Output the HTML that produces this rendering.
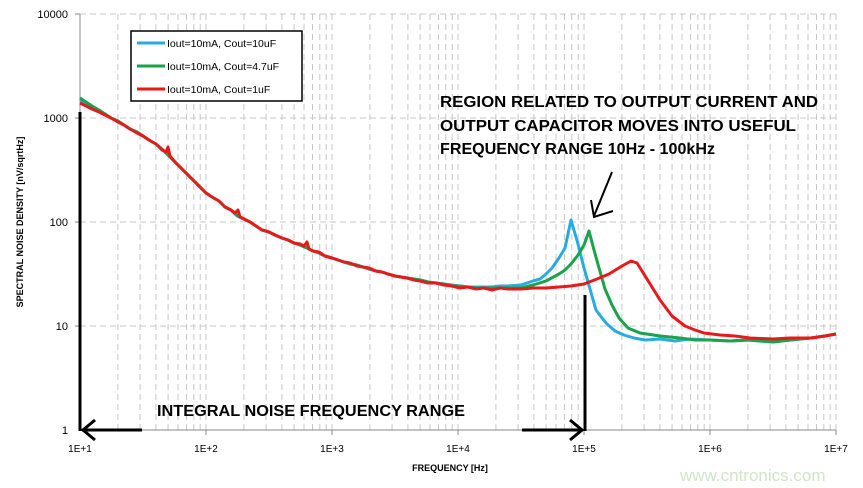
<!DOCTYPE html>
<html><head><meta charset="utf-8"><style>
body{margin:0;background:#fff}
svg{display:block;font-family:"Liberation Sans",sans-serif}
</style></head><body>
<svg width="863" height="488" viewBox="0 0 863 488">
<rect width="863" height="488" fill="#fff"/>
<defs>
<g id="dec">
<line x1="37.9" y1="14" x2="37.9" y2="430"/><line x1="60.1" y1="14" x2="60.1" y2="430"/><line x1="75.9" y1="14" x2="75.9" y2="430"/><line x1="88.1" y1="14" x2="88.1" y2="430"/><line x1="98" y1="14" x2="98" y2="430"/><line x1="106.5" y1="14" x2="106.5" y2="430"/><line x1="113.8" y1="14" x2="113.8" y2="430"/><line x1="120.2" y1="14" x2="120.2" y2="430"/><line x1="126" y1="14" x2="126" y2="430"/>
</g>
</defs>
<g stroke="#c8c8c8" stroke-width="1" stroke-dasharray="6,4" fill="none">
<use href="#dec" x="80"/><use href="#dec" x="206"/><use href="#dec" x="332"/><use href="#dec" x="458"/><use href="#dec" x="584"/><use href="#dec" x="710"/>
<line x1="80" y1="14" x2="836" y2="14"/><line x1="80" y1="118" x2="836" y2="118"/><line x1="80" y1="222" x2="836" y2="222"/><line x1="80" y1="326" x2="836" y2="326"/>
</g>
<line x1="80" y1="430" x2="836" y2="430" stroke="#888"/>
<line x1="80" y1="14" x2="80" y2="430" stroke="#888"/>
<g stroke="#888">
<line x1="206" y1="430" x2="206" y2="435"/><line x1="332" y1="430" x2="332" y2="435"/><line x1="458" y1="430" x2="458" y2="435"/><line x1="584" y1="430" x2="584" y2="435"/><line x1="710" y1="430" x2="710" y2="435"/><line x1="836" y1="430" x2="836" y2="435"/>
<line x1="75" y1="14" x2="80" y2="14"/><line x1="75" y1="118" x2="80" y2="118"/><line x1="75" y1="222" x2="80" y2="222"/><line x1="75" y1="326" x2="80" y2="326"/>
</g>
<g font-size="11" fill="#000" text-anchor="end">
<text x="68" y="18">10000</text><text x="68" y="122">1000</text><text x="68" y="226">100</text><text x="68" y="330">10</text><text x="68" y="434">1</text>
</g>
<g font-size="10" fill="#000" text-anchor="middle">
<text x="80" y="452">1E+1</text><text x="206" y="452">1E+2</text><text x="332" y="452">1E+3</text><text x="458" y="452">1E+4</text><text x="584" y="452">1E+5</text><text x="710" y="452">1E+6</text><text x="836" y="452">1E+7</text>
</g>
<text x="450" y="471" font-size="9" font-weight="bold" text-anchor="middle">FREQUENCY  [Hz]</text>
<text transform="translate(23,222) rotate(-90)" font-size="9" font-weight="bold" text-anchor="middle">SPECTRAL  NOISE DENSITY  [nV/sqrtHz]</text>
<g fill="none" stroke-width="3" stroke-linejoin="round">
<polyline stroke="#29abe2" points="80,100 86,103 92,107 99,111 105,114 111,118 118,121 124,125 130,129 137,132 143,136 149,140 156,144 162,149 168,155 175,162 181,168 187,174 193,180 200,187 206,193 212,197 219,201 225,207 231,210 237,216 244,219 250,222 256,226 262,230 269,232 275,235 282,238 288,240 294,243 300,245 307,248 313,251 319,253 325,256 332,258 338,260 344,262 350,264 357,265 363,267 369,269 376,271 382,272 388,274 395,276 401,277 407,278 414,279 420,280 428,282 436,283 444,284 452,285 460,286 468,287 476,287 484,287 492,287 500,286 508,286 521,285 533,281 540,279 546,274 552,268 559,258 565,248 571,220 578,244 584,268 590,289 596,310 602,318 607,324 615,331 624,335 634,338 645,340 660,339 675,341 690,339 710,340 730,341 748,340 773,342 790,340 811,338 825,336 836,334"/>
<polyline stroke="#1aa34a" points="80,98 86,102 92,106 99,110 105,114 111,118 118,121 124,125 130,129 137,132 143,136 149,140 156,144 162,149 168,155 175,162 181,168 187,174 193,180 200,187 206,193 212,197 219,201 225,207 231,210 237,215 244,219 250,222 256,226 262,230 269,232 275,235 282,238 288,240 294,243 300,245 307,248 313,251 319,253 325,256 332,258 338,260 344,262 350,264 357,265 363,267 369,269 376,271 382,272 388,274 395,276 401,277 407,278 414,279 420,280 428,282 436,283 444,284 452,286 460,286 468,287 476,288 484,288 492,288 500,288 508,288 521,288 533,285 546,281 559,274 565,270 571,264 578,255 584,245 589,231 594,250 599,268 605,289 612,305 619,318 628,328 640,333 660,336 680,338 695,340 710,340 730,341 748,340 773,342 790,340 811,338 825,336 836,334"/>
<polyline stroke="#e8191b" points="80,103 86,106 92,109 99,112 105,115 111,118 118,122 124,125 130,129 137,133 143,136 149,140 156,144 162,150 166,152 168,147 170,156 175,162 181,168 187,174 193,180 200,187 206,193 212,197 219,201 225,207 231,210 235,213 238,210 240,217 244,219 250,222 256,226 262,230 269,232 275,235 282,238 288,240 294,243 300,244 304,246 307,242 309,249 313,251 319,252 325,256 332,258 338,260 344,262 350,263 357,266 363,267 369,268 376,271 382,272 388,274 395,276 401,277 407,278 414,280 420,281 428,283 436,283 444,285 452,286 460,288 468,287 476,289 484,288 492,290 500,288 508,289 521,289 533,288 546,288 559,287 571,286 584,284 597,279 609,274 622,266 631,261 637,263 647,279 660,300 672,316 685,326 695,330 704,333 720,335 735,336 750,338 773,339 790,338 811,338 825,336 836,334"/>
</g>
<rect x="131" y="31" width="171" height="70" fill="#fff" stroke="#000" stroke-width="1.5"/>
<line x1="137" y1="43" x2="165" y2="43" stroke="#29abe2" stroke-width="3"/>
<line x1="137" y1="66" x2="165" y2="66" stroke="#1aa34a" stroke-width="3"/>
<line x1="137" y1="89" x2="165" y2="89" stroke="#e8191b" stroke-width="3"/>
<g font-size="10.5" fill="#000"><text x="167" y="47">Iout=10mA, Cout=10uF</text><text x="167" y="70">Iout=10mA, Cout=4.7uF</text><text x="167" y="93">Iout=10mA, Cout=1uF</text></g>
<g font-size="16" font-weight="bold" fill="#000">
<text x="440" y="107" textLength="378" lengthAdjust="spacingAndGlyphs">REGION RELATED TO OUTPUT CURRENT AND</text>
<text x="440" y="131" textLength="356" lengthAdjust="spacingAndGlyphs">OUTPUT CAPACITOR MOVES INTO USEFUL</text>
<text x="440" y="154" textLength="275" lengthAdjust="spacingAndGlyphs">FREQUENCY RANGE 10Hz - 100kHz</text>
<text x="157" y="416" textLength="308" lengthAdjust="spacingAndGlyphs">INTEGRAL NOISE FREQUENCY RANGE</text>
</g>
<g stroke="#000" stroke-width="3" fill="none">
<line x1="80" y1="112" x2="80" y2="431"/>
<line x1="82" y1="430" x2="142" y2="430"/>
<polyline points="95,420 83,430 95,440"/>
<line x1="522" y1="430" x2="583" y2="430"/>
<polyline points="570,420 582,430 570,440"/>
<line x1="585" y1="295" x2="585" y2="431"/>
<line x1="612" y1="172" x2="594" y2="216" stroke-width="2"/>
<polyline points="591,200 594,217 613,211" stroke-width="2"/>
</g>
<text x="680" y="481" font-size="17" fill="#cfe6c8">www.cntronics.com</text>
</svg>
</body></html>
